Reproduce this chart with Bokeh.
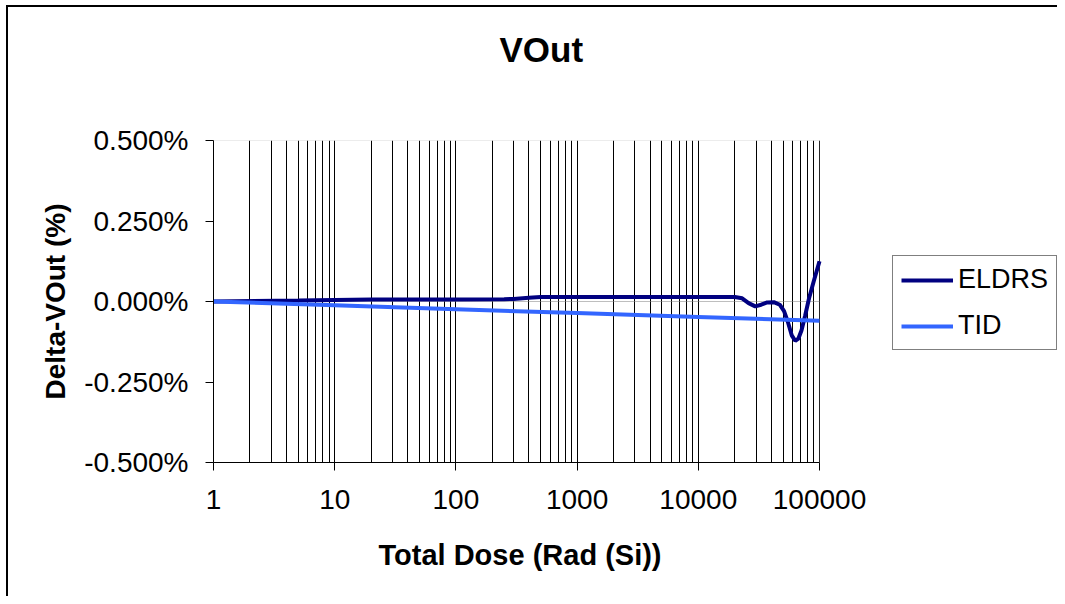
from bokeh.plotting import figure
from bokeh.models import (FixedTicker, PrintfTickFormatter, Legend, LegendItem,
                          Range1d, BoxAnnotation, Title)
from bokeh.embed import file_html
from bokeh.resources import INLINE

# ---- data ----
eldrs_dose = [1, 5, 10, 20, 100, 250, 300, 400, 500, 1000, 10000, 20000, 23000, 26000,
              29500, 33000, 37000, 42000, 47000, 51000, 55000, 59000, 63000, 67000,
              71000, 76000, 82000, 90000, 100000]
eldrs_val = [0.000, 0.003, 0.005, 0.006, 0.006, 0.007, 0.008, 0.012, 0.014, 0.014, 0.014,
             0.014, 0.010, -0.005, -0.015, -0.010, -0.003, -0.002, -0.010, -0.030,
             -0.065, -0.105, -0.122, -0.115, -0.090, -0.045, 0.010, 0.065, 0.125]

tid_dose = [1, 10, 100, 1000, 10000, 100000]
tid_val = [0.000, -0.012, -0.024, -0.036, -0.048, -0.060]

x_ticks = [1, 10, 100, 1000, 10000, 100000]
x_minor = [m * d for d in [1, 10, 100, 1000, 10000] for m in range(2, 10)]
y_ticks = [-0.5, -0.25, 0.0, 0.25, 0.5]

FONT = "Liberation Sans"

W, H = 1057, 596
PLOT_L, PLOT_R = 213, 819          # pixel extent of the plot area (1 .. 100000)
X_MIN, X_MAX = x_ticks[0], x_ticks[-1]
# frame runs to the right edge so the legend can sit in it; extend the log range accordingly
x_end = X_MAX ** ((W - PLOT_L) / (PLOT_R - PLOT_L))

p = figure(width=W, height=H, x_axis_type="log", output_backend="svg",
           toolbar_location=None, x_range=Range1d(X_MIN, x_end), y_range=Range1d(-0.5, 0.5),
           min_border_left=PLOT_L, min_border_right=0, min_border_top=140,
           min_border_bottom=134)

p.background_fill_color = "white"
p.border_fill_color = "white"
p.border_fill_alpha = 0
p.outline_line_color = None
# outer chart border (left and top edges; the others fall outside the picture)
p.styles = {
    "background-color": "#ffffff",
    "background-image": "linear-gradient(#000,#000), linear-gradient(#000,#000)",
    "background-position": "6px 5px, 6px 5px",
    "background-size": "2px 2000px, 2000px 2px",
    "background-repeat": "no-repeat, no-repeat",
}

# plot-area border (only around 1 .. 100000)
p.add_layout(BoxAnnotation(left=X_MIN, right=X_MAX, top=0.5, bottom=-0.5,
                           fill_alpha=0, line_color="#808080", line_width=1,
                           level="underlay"))
# zero line across the plot area only
p.add_layout(BoxAnnotation(left=X_MIN, right=X_MAX, top=0.0, bottom=0.0,
                           fill_alpha=0, line_color="#808080", line_width=1,
                           level="underlay"))

# spacer between frame and title
p.add_layout(Title(text=" ", text_font_size="10px", standoff=54), "above")

# title
p.title.text = "VOut"
p.title.text_font = FONT
p.title.text_font_size = "35px"
p.title.text_font_style = "bold"
p.title.text_color = "#000000"
p.title.align = "left"
p.title.offset = 286
p.title.standoff = 10

# grids
p.ygrid.grid_line_color = None
p.xgrid.ticker = FixedTicker(ticks=x_ticks, minor_ticks=x_minor)
p.xgrid.grid_line_color = "#000000"
p.xgrid.grid_line_width = 1
p.xgrid.minor_grid_line_color = "#000000"
p.xgrid.minor_grid_line_width = 1

# axes
xa = p.xaxis[0]
xa.ticker = FixedTicker(ticks=x_ticks, minor_ticks=x_minor)
xa.formatter = PrintfTickFormatter(format="%d")
xa.bounds = (X_MIN, X_MAX)
xa.major_label_text_font = FONT
xa.major_label_text_font_size = "28px"
xa.major_label_text_color = "#000000"
xa.major_label_standoff = 19
xa.major_tick_in = 0
xa.major_tick_out = 8
xa.minor_tick_line_color = None
xa.axis_line_color = "#000000"
xa.major_tick_line_color = "#000000"

# x-axis title, centred under the 1 .. 100000 plot area
xlabel = Title(text="Total Dose (Rad (Si))", text_font=FONT, text_font_size="29px",
               text_font_style="bold", text_color="#000000", align="left",
               offset=165, standoff=50)
p.add_layout(xlabel, "below")

ya = p.yaxis[0]
ya.ticker = FixedTicker(ticks=y_ticks)
ya.formatter = PrintfTickFormatter(format="%.3f%%")
ya.axis_label = "Delta-VOut (%)"
ya.axis_label_text_font = FONT
ya.axis_label_text_font_size = "28px"
ya.axis_label_text_font_style = "bold"
ya.axis_label_text_color = "#000000"
ya.axis_label_standoff = 10
ya.major_label_text_font = FONT
ya.major_label_text_font_size = "28px"
ya.major_label_text_color = "#000000"
ya.major_label_standoff = 17
ya.major_tick_in = 0
ya.major_tick_out = 8
ya.minor_tick_line_color = None
ya.axis_line_color = "#000000"
ya.major_tick_line_color = "#000000"

r_e = p.line(eldrs_dose, eldrs_val, line_color="#000080", line_width=4)
r_t = p.line(tid_dose, tid_val, line_color="#3366FF", line_width=4)

legend = Legend(items=[LegendItem(label="ELDRS", renderers=[r_e]),
                       LegendItem(label="TID", renderers=[r_t])],
                location=(679, 112))
legend.label_text_font = FONT
legend.label_text_font_size = "27px"
legend.label_text_color = "#000000"
legend.glyph_width = 52
legend.glyph_height = 28
legend.label_height = 28
legend.label_standoff = 5
legend.spacing = 15
legend.padding = 8
legend.margin = 0
legend.border_line_color = "#000000"
legend.border_line_width = 1
legend.background_fill_color = "white"
legend.background_fill_alpha = 1
p.add_layout(legend)

open("out.html", "w").write(file_html(p, INLINE))
